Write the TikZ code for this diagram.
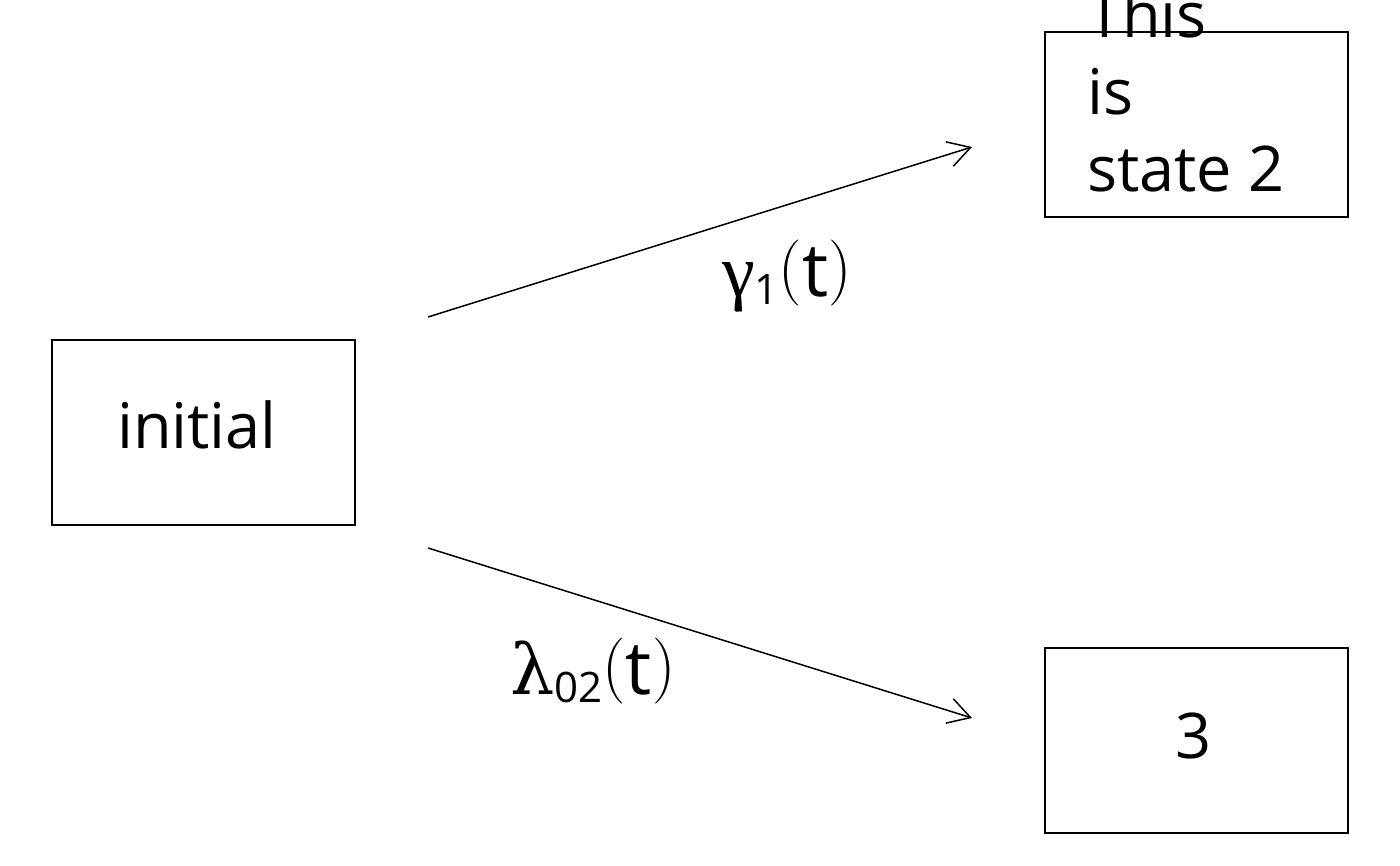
\documentclass[tikz,border=0pt]{standalone}
\usepackage{fontspec}
\setmainfont{Open Sans}
\newfontfamily\lmr{Latin Modern Roman}
\newfontfamily\dserif{DejaVu Serif}
\font\lsg="Liberation Serif" at 74pt
\usetikzlibrary{arrows.meta}
\tikzset{
  statebox/.style={draw=black, line width=1.5pt, minimum width=303pt, minimum height=185pt, inner sep=0pt, fill=none},
  boxtext/.style={inner sep=0pt, font=\fontsize{63}{77}\selectfont},
  ratelabel/.style={inner sep=0pt, font=\fontsize{74}{80}\selectfont},
  trans/.style={line width=1.5pt, -{Straight Barb[length=22pt,width=25.5pt,line width=1.5pt]}}
}
\newcommand{\mysub}[1]{\raisebox{-8pt}{\fontsize{42}{42}\selectfont #1}}
\newcommand{\lp}{\raisebox{7pt}{\lmr\fontsize{66}{70}\selectfont (}}
\newcommand{\rp}{\raisebox{7pt}{\lmr\fontsize{66}{70}\selectfont )}}
\begin{document}
\begin{tikzpicture}[x=1pt,y=-1pt]
\useasboundingbox[fill=white] (0,0) rectangle (1400,866);
\node[statebox] (s1) at (203.5,432.5) {};
\node[statebox] (s2) at (1196.5,124.5) {};
\node[statebox] (s3) at (1196.5,740.5) {};
\node[boxtext, anchor=base] (t1) at (197,448) {initial};
\node[boxtext, anchor=base west] (t2) at (1087,38) {\renewcommand\arraystretch{1}\begin{tabular}[t]{@{}l@{}}This\\is\\state 2\end{tabular}};
\node[boxtext, anchor=base] (t3) at (1193,758) {3};
\coordinate (a1s) at (428,317);
\coordinate (a1e) at (972,147);
\coordinate (a2s) at (428,548);
\coordinate (a2e) at (972,718);
\draw[trans] (a1s) -- (a1e);
\draw[trans] (a2s) -- (a2e);
\node[ratelabel, anchor=base west] (l1) at (722,297) {{\lsg γ}\mysub{1}\lp t\rp};
\node[ratelabel, anchor=base west] (l2) at (510,694) {{\dserif\fontsize{70}{70}\selectfont λ}\mysub{02}\lp t\rp};
\end{tikzpicture}
\end{document}
